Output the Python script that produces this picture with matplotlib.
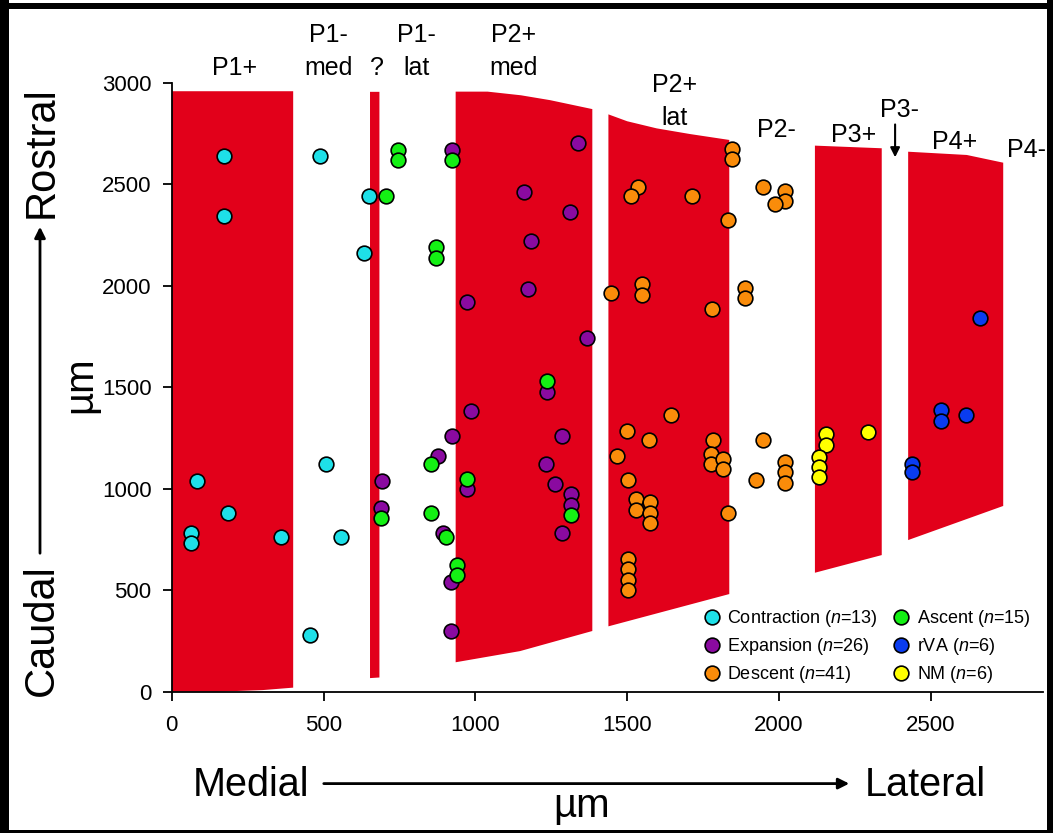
import matplotlib
matplotlib.use("Agg")
import matplotlib.pyplot as plt
from matplotlib.patches import Rectangle
from matplotlib.lines import Line2D

plt.rcParams['font.family'] = ['Liberation Sans', 'DejaVu Sans']
plt.rcParams['mathtext.fontset'] = 'custom'
plt.rcParams['mathtext.it'] = 'Liberation Sans:italic'
plt.rcParams['mathtext.rm'] = 'Liberation Sans'

W, H = 1053, 833

# ---------------- data ----------------
contraction_x = [173, 173, 83, 184, 64, 64, 361, 488, 651, 632, 509, 557, 454]
contraction_y = [2641, 2341, 1040, 880, 784, 733, 762, 2641, 2443, 2160, 1122, 762, 281]

expansion_x = [691, 689, 878, 894, 922, 1337, 1160, 1310, 1184, 1174, 971, 1367,
               1235, 986, 922, 1286, 1232, 971, 1263, 1315, 1315, 1286, 919, 920]
expansion_y = [1040, 906, 1163, 784, 2669, 2703, 2462, 2362, 2222, 1983, 1921, 1742,
               1474, 1382, 1261, 1261, 1123, 997, 1022, 972, 922, 780, 541, 300]

descent_x = [1844, 1844, 1536, 1512, 1713, 1832, 1948, 2020, 2020, 1988,
             1550, 1550, 1446, 1780, 1887, 1887, 1644, 1499, 1573, 1467,
             1503, 1530, 1530, 1575, 1575, 1575, 1501, 1501, 1501, 1501,
             1783, 1777, 1775, 1814, 1814, 1832, 1948, 1924, 2020, 2020, 2020]
descent_y = [2672, 2623, 2485, 2442, 2443, 2322, 2485, 2468, 2419, 2402,
             2008, 1956, 1963, 1884, 1990, 1938, 1362, 1283, 1241, 1163,
             1041, 948, 897, 933, 882, 831, 654, 603, 552, 501,
             1241, 1172, 1122, 1148, 1097, 882, 1241, 1041, 1131, 1081, 1030]

ascent_x = [744, 744, 706, 871, 871, 853, 689, 855, 902, 922, 1235, 971, 1315, 940, 940]
ascent_y = [2669, 2620, 2443, 2190, 2137, 1122, 856, 880, 762, 2620, 1529, 1048, 871, 626, 573]

rva_x = [2662, 2532, 2532, 2614, 2437, 2437]
rva_y = [1842, 1388, 1335, 1362, 1122, 1081]

nm_x = [2154, 2154, 2131, 2131, 2131, 2292]
nm_y = [1268, 1215, 1155, 1108, 1056, 1281]

series_names = ['Contraction', 'Expansion', 'Descent', 'Ascent', 'rVA', 'NM']
series_n = [13, 26, 41, 15, 6, 6]
series_colors = ['#1EE0E8', '#8A0AA0', '#FA8C0A', '#14F014', '#0A3CF0', '#FFFF00']

# red regions (x, y outlines)
regions = {
    'P1+': ([0, 400, 400, 300, 150, 0], [2958, 2958, 20, 8, 0, 0]),
    '?': ([653, 684, 684, 653], [2955, 2955, 70, 67]),
    'P2+med': ([935, 1040, 1150, 1246, 1385, 1385, 1147, 935],
               [2956, 2956, 2938, 2914, 2870, 299, 200, 145]),
    'P2+lat': ([1438, 1500, 1597, 1707, 1836, 1836, 1438],
               [2844, 2810, 2775, 2747, 2718, 481, 322]),
    'P3+': ([2118, 2338, 2338, 2118], [2690, 2677, 673, 586]),
    'P4+': ([2425, 2618, 2738, 2738, 2425], [2660, 2644, 2606, 915, 747]),
}

region_labels = ['P1+', 'P1-', 'med', '?', 'P1-', 'lat', 'P2+', 'med',
                 'P2+', 'lat', 'P2-', 'P3+', 'P3-', 'P4+', 'P4-']
label_x = [208, 515, 515, 675, 805, 805, 1125, 1125,
           1657, 1657, 1992, 2244, 2398, 2579, 2815]
label_y = [3072, 3235, 3072, 3072, 3235, 3072, 3235, 3072,
           2989, 2825, 2767, 2742, 2865, 2709, 2668]

x_ticks = [0, 500, 1000, 1500, 2000, 2500]
y_ticks = [0, 500, 1000, 1500, 2000, 2500, 3000]

# ---------------- figure ----------------
fig = plt.figure(figsize=(W / 100, H / 100), dpi=100)
x0_px, x1_px = 171.7, 1043.3
y0_px, y1_px = 691.7, 82.7
ax = fig.add_axes([x0_px / W, 1 - y0_px / H, (x1_px - x0_px) / W, (y0_px - y1_px) / H])
ax.set_xlim(0, 2870)
ax.set_ylim(0, 3000)

red = '#E2001A'
for name, (xs, ys) in regions.items():
    ax.fill(xs, ys, color=red, lw=0, zorder=1)

sdata = [(contraction_x, contraction_y), (expansion_x, expansion_y),
         (descent_x, descent_y), (ascent_x, ascent_y), (rva_x, rva_y), (nm_x, nm_y)]
zorders = [3, 4, 3, 6, 5, 5]
for (xs, ys), c, z in zip(sdata, series_colors, zorders):
    ax.scatter(xs, ys, s=112, c=c, edgecolors='black', linewidths=1.2, zorder=z, clip_on=False)

for t, x, y in zip(region_labels, label_x, label_y):
    ax.text(x, y, t, fontsize=18, ha='center', va='center', clip_on=False)

ax.annotate('', xy=(2382, 2619), xytext=(2382, 2808),
            arrowprops=dict(arrowstyle='-|>', color='black', lw=1.5, mutation_scale=14),
            annotation_clip=False)

for s in ['top', 'right']:
    ax.spines[s].set_visible(False)
for s in ['left', 'bottom']:
    ax.spines[s].set_linewidth(1.3)
ax.set_xticks(x_ticks)
ax.set_yticks(y_ticks)
ax.tick_params(direction='out', length=6.5, width=1.3, labelsize=16, pad=8)
ax.tick_params(axis='x', pad=10)

handles = [Line2D([], [], marker='o', linestyle='none', markersize=10.6,
                  markerfacecolor=c, markeredgecolor='black', markeredgewidth=1.2)
           for c in series_colors]
labels = [f'{n} ($n$={k})' for n, k in zip(series_names, series_n)]
ax.legend(handles, labels, ncol=2, loc='upper left', bbox_to_anchor=(0.609, 0.137),
          frameon=False, fontsize=13, borderpad=0, borderaxespad=0,
          handlelength=1.0, handletextpad=0.37, columnspacing=0.8, labelspacing=0.38)

# ---------------- axis captions ----------------
def fx(px):
    return px / W

def fy(py):
    return 1 - py / H

fig.text(fx(251), fy(785), 'Medial', fontsize=28.5, ha='center', va='center')
fig.text(fx(925), fy(785), 'Lateral', fontsize=28.5, ha='center', va='center')
fig.text(fx(582), fy(806), '\u00b5m', fontsize=29, ha='center', va='center')
fig.add_artist(matplotlib.patches.FancyArrowPatch(
    (fx(321), fy(783.6)), (fx(852), fy(783.6)), transform=fig.transFigure,
    arrowstyle='-|>', mutation_scale=16, lw=2.0, color='black'))

fig.text(fx(42), fy(152), 'Rostral', fontsize=30, rotation=90, ha='center', va='center')
fig.text(fx(42), fy(630), 'Caudal', fontsize=30, rotation=90, ha='center', va='center')
fig.text(fx(80), fy(385), '\u00b5m', fontsize=29, rotation=90, ha='center', va='center')
fig.add_artist(matplotlib.patches.FancyArrowPatch(
    (fx(40), fy(556)), (fx(40), fy(224)), transform=fig.transFigure,
    arrowstyle='-|>', mutation_scale=16, lw=2.0, color='black'))

# ---------------- outer frame ----------------
def frame_rect(x, y, w, h):
    fig.add_artist(Rectangle((x / W, 1 - (y + h) / H), w / W, h / H,
                             transform=fig.transFigure, color='black', lw=0))

frame_rect(0, 3, W, 6)
frame_rect(0, 0, 9, H)
frame_rect(W - 6, 0, 6, H)
frame_rect(0, H - 3, W, 3)

fig.savefig('out.png', dpi=100)
